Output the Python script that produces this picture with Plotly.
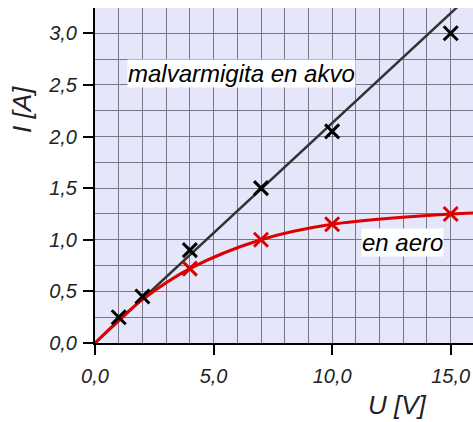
import plotly.graph_objects as go

# measured data
U_water = [1, 2, 4, 7, 10, 15]
I_water = [0.25, 0.45, 0.9, 1.5, 2.05, 3.0]
water_slope = 0.213  # fitted line through origin

U_air = [4, 7, 10, 15]
I_air = [0.72, 1.0, 1.15, 1.25]

# smooth curve for air
U_air_curve = [0, 1, 2, 4, 7, 10, 15, 16]
I_air_curve = [0, 0.22, 0.42, 0.72, 1.0, 1.15, 1.25, 1.26]

x_ticks = [0, 5, 10, 15]
y_ticks = [0, 0.5, 1.0, 1.5, 2.0, 2.5, 3.0]
x_max = 15.94
y_max = 3.245

FONT = "Liberation Sans"
GRID = "#777788"

fig = go.Figure()

fig.add_trace(go.Scatter(
    x=[0, x_max], y=[0, water_slope * x_max], mode="lines",
    line=dict(color="#333333", width=2.5), showlegend=False))
fig.add_trace(go.Scatter(
    x=U_air_curve, y=I_air_curve, mode="lines", line_shape="spline",
    line=dict(color="#dd0000", width=3), showlegend=False))
fig.add_trace(go.Scatter(
    x=U_water, y=I_water, mode="markers",
    marker=dict(symbol="x-thin", size=14, line=dict(color="black", width=3)),
    showlegend=False))
fig.add_trace(go.Scatter(
    x=U_air, y=I_air, mode="markers",
    marker=dict(symbol="x-thin", size=14, line=dict(color="#dd0000", width=3)),
    showlegend=False))

axis_common = dict(
    showline=True, linecolor="black", linewidth=2,
    ticks="outside", ticklen=10, tickwidth=2, tickcolor="black",
    tickfont=dict(family=FONT, size=20, color="#222222", style="italic"),
    tickformat=".1f", zeroline=False, automargin=False,
    showgrid=True, gridcolor=GRID, gridwidth=1.4,
)

fig.update_layout(
    width=473, height=422,
    margin=dict(l=95, r=0, t=8, b=79),
    paper_bgcolor="white", plot_bgcolor="#e6e6fa",
    separators=",.",
    xaxis=dict(range=[0, x_max], tickvals=x_ticks, ticklabelstandoff=4,
               minor=dict(dtick=1, showgrid=True, gridcolor=GRID, gridwidth=1.4, ticks=""),
               **axis_common),
    yaxis=dict(range=[0, y_max], tickvals=y_ticks, ticklabelstandoff=2,
               minor=dict(dtick=0.25, showgrid=True, gridcolor=GRID, gridwidth=1.4, ticks=""),
               **axis_common),
    annotations=[
        dict(x=6.17, y=2.61, xref="x", yref="y", text="malvarmigita en akvo",
             showarrow=False, bgcolor="white", borderpad=0,
             font=dict(family=FONT, size=24, color="black", style="italic")),
        dict(x=12.95, y=0.97, xref="x", yref="y", text="en aero",
             showarrow=False, bgcolor="white", borderpad=0,
             font=dict(family=FONT, size=24, color="black", style="italic")),
        dict(x=22, y=110, xref="paper", yref="paper", text="I [A]", textangle=-90,
             showarrow=False, xanchor="center", yanchor="middle",
             font=dict(family=FONT, size=26, color="#222222", style="italic")),
        dict(x=397, y=405, xref="paper", yref="paper", text="U [V]",
             showarrow=False, xanchor="center", yanchor="middle",
             font=dict(family=FONT, size=26, color="#222222", style="italic")),
    ],
)

# convert pixel positions of axis titles to paper coords
pw = 473 - 95 - 0
ph = 422 - 8 - 79
for ann in fig.layout.annotations[2:]:
    px, py = ann.x, ann.y
    ann.x = (px - 95) / pw
    ann.y = 1 - (py - 8) / ph

fig.write_html("out.html", config={"displayModeBar": False},
               post_script="document.body.style.margin='0';document.body.style.overflow='hidden';")
